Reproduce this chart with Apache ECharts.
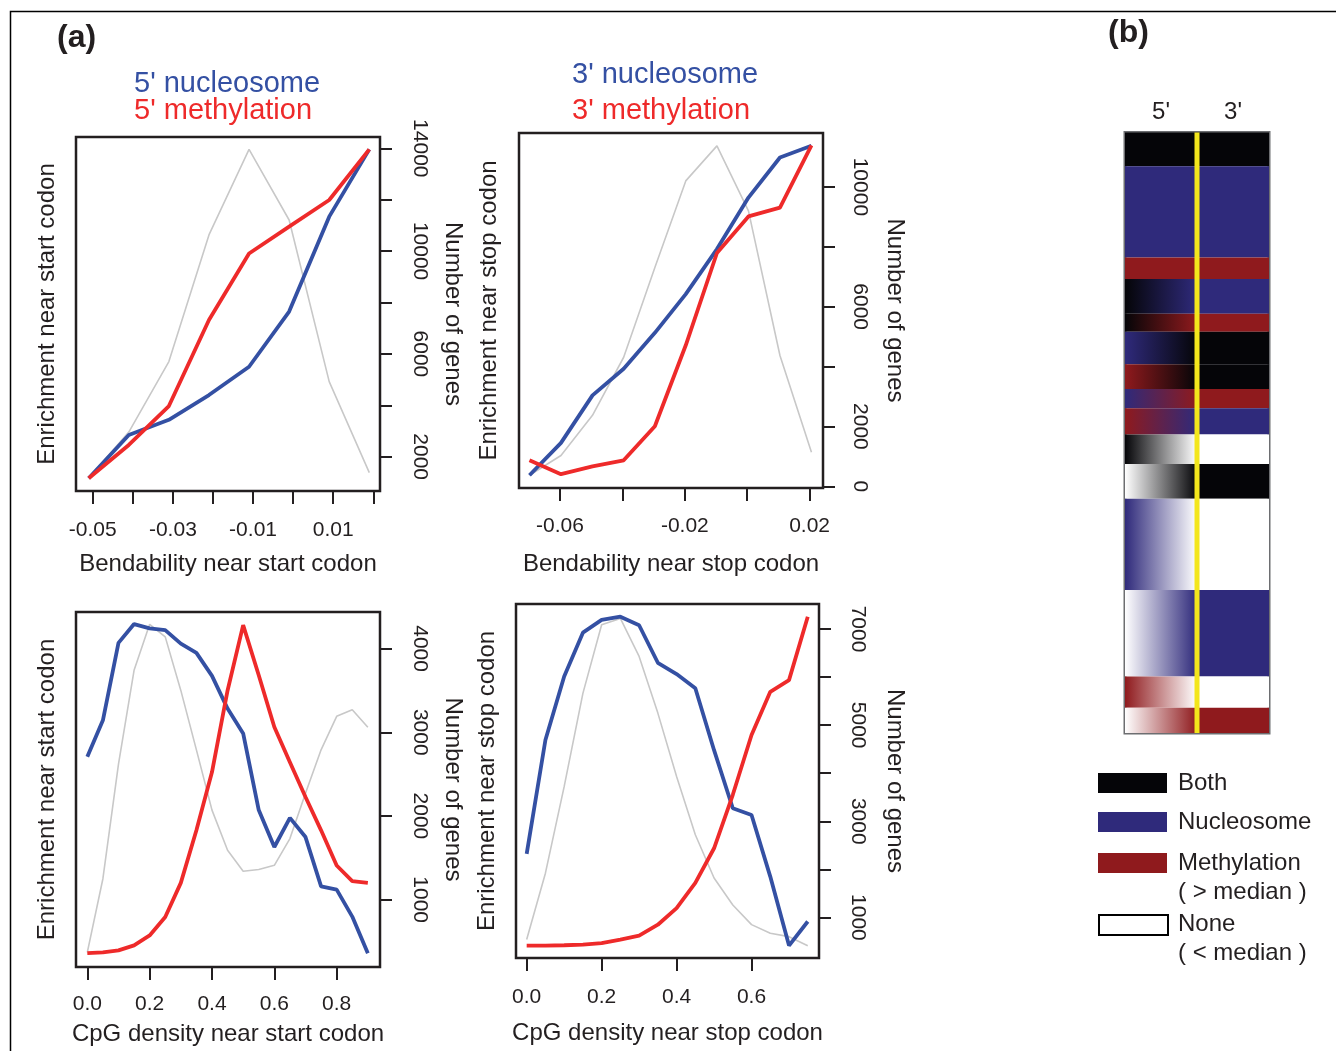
<!DOCTYPE html>
<html>
<head>
<meta charset="utf-8">
<script src="https://cdn.jsdelivr.net/npm/echarts@6/dist/echarts.min.js"></script>
<style>
  html, body { margin: 0; padding: 0; background: #fff; }
  #main { width: 1336px; height: 1051px; }
</style>
</head>
<body>
<div id="main"></div>
<script>
// (a) top-left: bendability near start codon
var bendStartX = [-0.051, -0.041, -0.031, -0.021, -0.011, -0.001, 0.009, 0.019];
var bendStartNuc = [0.036, 0.158, 0.201, 0.271, 0.351, 0.507, 0.775, 0.965];
var bendStartMeth = [0.036, 0.130, 0.240, 0.483, 0.671, 0.747, 0.822, 0.965];
var bendStartGenes = [1170, 2960, 5700, 10630, 13960, 11210, 4920, 1380];

// (a) top-right: bendability near stop codon
var bendStopX = [-0.0698, -0.0597, -0.0496, -0.0396, -0.0296, -0.0197, -0.0097, 0.0004, 0.0105, 0.0206];
var bendStopNuc = [0.036, 0.127, 0.261, 0.336, 0.437, 0.546, 0.673, 0.818, 0.931, 0.964];
var bendStopMeth = [0.078, 0.039, 0.061, 0.078, 0.174, 0.402, 0.662, 0.765, 0.790, 0.965];
var bendStopGenes = [370, 1030, 2370, 4310, 7310, 10200, 11370, 9200, 4370, 1140];

// (a) bottom-left: CpG density near start codon
var cpgStartX = [0, 0.05, 0.1, 0.15, 0.2, 0.25, 0.3, 0.35, 0.4, 0.45, 0.5, 0.55, 0.6, 0.65, 0.7, 0.75, 0.8, 0.85, 0.9];
var cpgStartNuc = [0.592, 0.695, 0.913, 0.966, 0.954, 0.949, 0.911, 0.885, 0.820, 0.728, 0.658, 0.442, 0.338, 0.420, 0.366, 0.227, 0.218, 0.142, 0.039];
var cpgStartMeth = [0.039, 0.041, 0.047, 0.061, 0.089, 0.141, 0.237, 0.385, 0.549, 0.779, 0.963, 0.822, 0.676, 0.577, 0.479, 0.385, 0.286, 0.242, 0.237];
var cpgStartGenes = [370, 1250, 2620, 3740, 4290, 4140, 3500, 2790, 2070, 1590, 1340, 1360, 1410, 1730, 2270, 2790, 3190, 3270, 3060];

// (a) bottom-right: CpG density near stop codon
var cpgStopX = [0, 0.05, 0.1, 0.15, 0.2, 0.25, 0.3, 0.35, 0.4, 0.45, 0.5, 0.55, 0.6, 0.65, 0.7, 0.75];
var cpgStopNuc = [0.294, 0.616, 0.795, 0.919, 0.955, 0.964, 0.940, 0.834, 0.802, 0.762, 0.587, 0.423, 0.404, 0.230, 0.035, 0.103];
var cpgStopMeth = [0.035, 0.035, 0.036, 0.038, 0.042, 0.052, 0.063, 0.094, 0.141, 0.212, 0.310, 0.461, 0.630, 0.752, 0.785, 0.964];
var cpgStopGenes = [540, 1920, 3720, 5660, 7090, 7220, 6430, 5250, 3930, 2720, 1820, 1260, 850, 670, 600, 410];

// (b) gene groups, % of genes, state at 5' and at 3'
var stateNames = ['Both', 'Nucleosome', 'Methylation', 'None'];
var groupShare = [5.6, 15.2, 3.6, 5.8, 3.0, 5.4, 4.1, 3.2, 4.4, 4.9, 5.8, 15.2, 14.4, 5.2, 4.2];
var groupState5 = ['Both', 'Nucleosome', 'Methylation', 'Both', 'Both', 'Nucleosome', 'Methylation', 'Nucleosome',
                   'Methylation', 'Both', 'None', 'Nucleosome', 'None', 'Methylation', 'None'];
var groupState3 = ['Both', 'Nucleosome', 'Methylation', 'Nucleosome', 'Methylation', 'Both', 'Both', 'Methylation',
                   'Nucleosome', 'None', 'Both', 'None', 'Nucleosome', 'None', 'Methylation'];

var font = '"Liberation Sans", Arial, Helvetica, sans-serif';
var ink = '#231f20';
var blue = '#3450a3';
var red = '#ee2a2a';
var grey = '#c8c8c8';
var stateColors = {'Both': '#050508', 'Nucleosome': '#2f2a7b', 'Methylation': '#8f1a1d', 'None': '#ffffff'};

var myChart = echarts.init(document.getElementById('main'));

function pairs(xs, ys) {
	var out = [];
	for (var i = 0; i < xs.length; i++) out.push([xs[i], ys[i]]);
	return out;
}

function xAxisFor(gi, min, max, ticks, labels, digits, labelMargin, name, nameGap) {
	return {
		type: 'value', gridIndex: gi, min: min, max: max,
		name: name, nameLocation: 'middle', nameGap: nameGap,
		nameTextStyle: {fontSize: 24, color: ink, fontFamily: font},
		axisLine: {show: false},
		axisTick: {show: true, length: 13, customValues: ticks, lineStyle: {color: ink, width: 2}},
		axisLabel: {show: true, customValues: labels, margin: labelMargin, fontSize: 21, color: ink, fontFamily: font,
			formatter: function (v) { return v.toFixed(digits); }},
		splitLine: {show: false}
	};
}

function enrichAxis(gi, name, nameGap) {
	return {
		type: 'value', gridIndex: gi, position: 'left', min: 0, max: 1,
		name: name, nameLocation: 'middle', nameGap: nameGap, nameRotate: 90,
		nameTextStyle: {fontSize: 24, color: ink, fontFamily: font},
		axisLine: {show: false}, axisTick: {show: false}, axisLabel: {show: false}, splitLine: {show: false}
	};
}

function genesAxis(gi, min, max, ticks, labels, labelMargin, nameGap) {
	return {
		type: 'value', gridIndex: gi, position: 'right', min: min, max: max,
		name: 'Number of genes', nameLocation: 'middle', nameGap: nameGap, nameRotate: -90,
		nameTextStyle: {fontSize: 24, color: ink, fontFamily: font},
		axisLine: {show: false},
		axisTick: {show: true, length: 12, customValues: ticks, lineStyle: {color: ink, width: 2}},
		axisLabel: {show: true, customValues: labels, rotate: -90, margin: labelMargin, fontSize: 21, color: ink, fontFamily: font,
			formatter: function (v) { return String(v); }},
		splitLine: {show: false}
	};
}

function line(name, xi, yi, data, color, width, z) {
	return {
		name: name, type: 'line', xAxisIndex: xi, yAxisIndex: yi, data: data,
		showSymbol: false, smooth: false, z: z, silent: true,
		lineStyle: {color: color, width: width}
	};
}

// heat map rows from the group shares
var rows = [];
var acc = 0;
for (var r = 0; r < groupShare.length; r++) {
	rows.push([acc, acc + groupShare[r], stateNames.indexOf(groupState5[r]), stateNames.indexOf(groupState3[r])]);
	acc += groupShare[r];
}

function renderRow(params, api) {
	var y0 = api.value(0), y1 = api.value(1);
	var c5 = stateColors[stateNames[api.value(2)]];
	var c3 = stateColors[stateNames[api.value(3)]];
	var a = api.coord([0, y0]);
	var b = api.coord([1, y1]);
	var c = api.coord([2, y1]);
	var top = Math.min(a[1], b[1]);
	var h = Math.abs(b[1] - a[1]);
	var fill5 = c5 == c3 ? c5 : {type: 'linear', x: 0, y: 0, x2: 1, y2: 0,
		colorStops: [{offset: 0, color: c5}, {offset: 1, color: c3}]};
	return {
		type: 'group',
		children: [
			{type: 'rect', shape: {x: a[0], y: top, width: b[0] - a[0], height: h}, style: {fill: fill5}},
			{type: 'rect', shape: {x: b[0], y: top, width: c[0] - b[0], height: h}, style: {fill: c3}}
		]
	};
}

var legendItems = [
	{label: 'Both', color: stateColors['Both'], y: 773},
	{label: 'Nucleosome', color: stateColors['Nucleosome'], y: 812},
	{label: 'Methylation\n( > median )', color: stateColors['Methylation'], y: 853},
	{label: 'None\n( < median )', color: stateColors['None'], y: 914}
];
var legendGraphics = [];
legendItems.forEach(function (it) {
	legendGraphics.push({type: 'rect', left: 1098, top: it.y, shape: {width: 69, height: 20},
		style: {fill: it.color, stroke: it.label.indexOf('None') == 0 ? '#000' : null, lineWidth: 2}});
	legendGraphics.push({type: 'text', left: 1178, top: it.y - 4,
		style: {text: it.label, fontSize: 24, fill: ink, fontFamily: font, lineHeight: 29}});
});

option = {
	animation: false,
	backgroundColor: '#fff',
	title: [
		{text: '(a)', left: 57, top: 22, padding: 0, textStyle: {fontSize: 32, fontWeight: 'bold', color: ink, fontFamily: font}},
		{text: '(b)', left: 1108, top: 17, padding: 0, textStyle: {fontSize: 32, fontWeight: 'bold', color: ink, fontFamily: font}},
		{text: "5' nucleosome", left: 134, top: 69, padding: 0, textStyle: {fontSize: 29, fontWeight: 'normal', color: blue, fontFamily: font}},
		{text: "5' methylation", left: 134, top: 96, padding: 0, textStyle: {fontSize: 29, fontWeight: 'normal', color: red, fontFamily: font}},
		{text: "3' nucleosome", left: 572, top: 60, padding: 0, textStyle: {fontSize: 29, fontWeight: 'normal', color: blue, fontFamily: font}},
		{text: "3' methylation", left: 572, top: 96, padding: 0, textStyle: {fontSize: 29, fontWeight: 'normal', color: red, fontFamily: font}}
	],
	grid: [
		{left: 76, top: 137, width: 304, height: 354, show: true, borderColor: ink, borderWidth: 2.5},
		{left: 519, top: 133, width: 304, height: 355, show: true, borderColor: ink, borderWidth: 2.5},
		{left: 76, top: 612, width: 304, height: 355, show: true, borderColor: ink, borderWidth: 2.5},
		{left: 516, top: 604, width: 303, height: 354, show: true, borderColor: ink, borderWidth: 2.5},
		{left: 1125, top: 132.5, width: 144, height: 600.5, show: true, borderColor: '#6d6e71', borderWidth: 3}
	],
	xAxis: [
		xAxisFor(0, -0.05417, 0.02167, [-0.05, -0.04, -0.03, -0.02, -0.01, 0, 0.01, 0.02], [-0.05, -0.03, -0.01, 0.01], 2, 29, 'Bendability near start codon', 61),
		xAxisFor(1, -0.07316, 0.0243, [-0.06, -0.04, -0.02, 0, 0.02], [-0.06, -0.02, 0.02], 2, 28, 'Bendability near stop codon', 64),
		xAxisFor(2, -0.0363, 0.939, [0, 0.2, 0.4, 0.6, 0.8], [0, 0.2, 0.4, 0.6, 0.8], 1, 27, 'CpG density near start codon', 55),
		xAxisFor(3, -0.0285, 0.780, [0, 0.2, 0.4, 0.6], [0, 0.2, 0.4, 0.6], 1, 29, 'CpG density near stop codon', 63),
		{type: 'value', gridIndex: 4, min: 0, max: 2, position: 'top',
			axisLine: {show: false}, axisTick: {show: false}, splitLine: {show: false},
			axisLabel: {show: true, customValues: [0.5, 1.5], margin: 8, fontSize: 24, color: ink, fontFamily: font,
				formatter: function (v) { return v < 1 ? "5'" : "3'"; }}}
	],
	yAxis: [
		enrichAxis(0, 'Enrichment near start codon', 17),
		genesAxis(0, 665, 14440, [2000, 4000, 6000, 8000, 10000, 12000, 14000], [2000, 6000, 10000, 14000], 29, 61),
		enrichAxis(1, 'Enrichment near stop codon', 18),
		genesAxis(1, -57, 11800, [0, 2000, 4000, 6000, 8000, 10000], [0, 2000, 6000, 10000], 26, 60),
		enrichAxis(2, 'Enrichment near start codon', 17),
		genesAxis(2, 195, 4437, [1000, 2000, 3000, 4000], [1000, 2000, 3000, 4000], 29, 61),
		enrichAxis(3, 'Enrichment near stop codon', 17),
		genesAxis(3, 156, 7520, [1000, 2000, 3000, 4000, 5000, 6000, 7000], [1000, 3000, 5000, 7000], 28, 64),
		{type: 'value', gridIndex: 4, min: 0, max: 100, inverse: true, show: false}
	],
	series: [
		line('genes', 0, 1, pairs(bendStartX, bendStartGenes), grey, 1.6, 2),
		line("5' nucleosome", 0, 0, pairs(bendStartX, bendStartNuc), blue, 3.8, 3),
		line("5' methylation", 0, 0, pairs(bendStartX, bendStartMeth), red, 3.8, 4),
		line('genes', 1, 3, pairs(bendStopX, bendStopGenes), grey, 1.6, 2),
		line("3' nucleosome", 1, 2, pairs(bendStopX, bendStopNuc), blue, 3.8, 3),
		line("3' methylation", 1, 2, pairs(bendStopX, bendStopMeth), red, 3.8, 4),
		line('genes', 2, 5, pairs(cpgStartX, cpgStartGenes), grey, 1.6, 2),
		line("5' nucleosome", 2, 4, pairs(cpgStartX, cpgStartNuc), blue, 3.8, 3),
		line("5' methylation", 2, 4, pairs(cpgStartX, cpgStartMeth), red, 3.8, 4),
		line('genes', 3, 7, pairs(cpgStopX, cpgStopGenes), grey, 1.6, 2),
		line("3' nucleosome", 3, 6, pairs(cpgStopX, cpgStopNuc), blue, 3.8, 3),
		line("3' methylation", 3, 6, pairs(cpgStopX, cpgStopMeth), red, 3.8, 4),
		{type: 'custom', xAxisIndex: 4, yAxisIndex: 8, data: rows, renderItem: renderRow, silent: true, z: 2},
		line('divider', 4, 8, [[1, 0], [1, 100]], '#f3e61c', 5, 5)
	],
	graphic: [
		{type: 'rect', left: 8, top: 9, z: 100, silent: true, shape: {width: 1400, height: 1100},
			style: {fill: null, stroke: '#000', lineWidth: 1.5}}
	].concat(legendGraphics)
};
myChart.setOption(option);
</script>
</body>
</html>
